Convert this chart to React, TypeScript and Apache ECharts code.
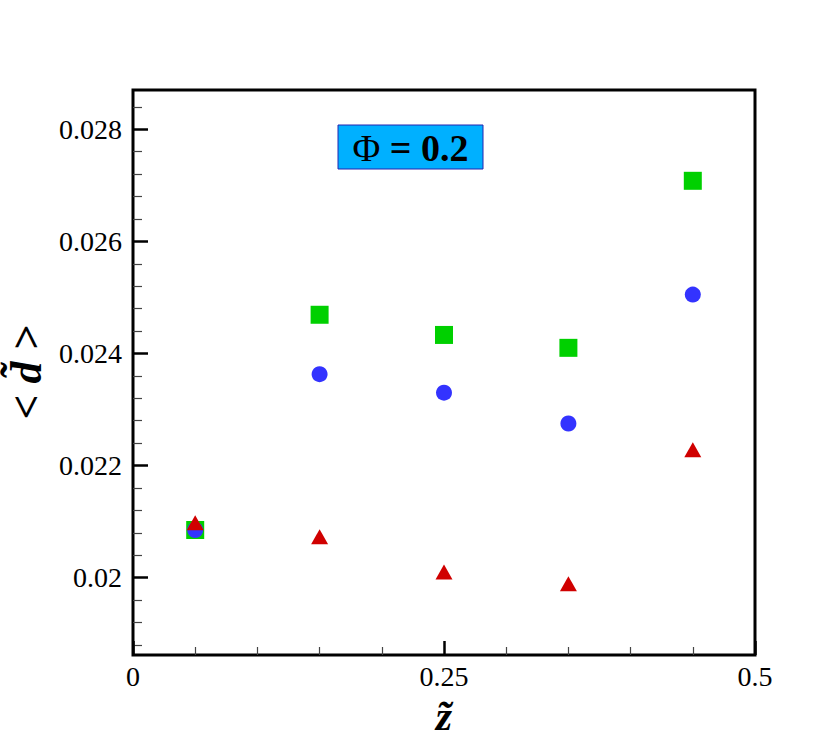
import React, { useEffect, useRef } from "react";
import * as echarts from "echarts";

const xValues = [0.05, 0.15, 0.25, 0.35, 0.45];
const greenSquares = [0.02085, 0.02469, 0.02433, 0.0241, 0.02708];
const blueCircles = [0.02085, 0.02363, 0.0233, 0.02275, 0.02505];
const redTriangles = [0.02098, 0.02073, 0.0201, 0.01989, 0.02228];

const xMajorTicks = [0, 0.25, 0.5];
const xMinorTicks = [0.05, 0.1, 0.15, 0.2, 0.3, 0.35, 0.4, 0.45];
const yMajorTicks = [0.02, 0.022, 0.024, 0.026, 0.028];
const yMinorTicks = [
  0.0188, 0.0192, 0.0196, 0.0204, 0.0208, 0.0212, 0.0216, 0.0224, 0.0228,
  0.0232, 0.0236, 0.0244, 0.0248, 0.0252, 0.0256, 0.0264, 0.0268, 0.0272,
  0.0276, 0.0284,
];
const xRange = [0, 0.5];
const yRange = [0.01862, 0.0287];

const serif = "'Liberation Serif', 'Times New Roman', serif";

export default function App() {
  const ref = useRef<HTMLDivElement>(null);
  useEffect(() => {
    if (!ref.current) return;
    const chart = echarts.init(ref.current, null, { renderer: "svg" });
    const pair = (ys: number[]) => xValues.map((x, i) => [x, ys[i]]);
    const labelStyle = { fontFamily: serif, fontSize: 28, color: "#000" };
    chart.setOption({
      animation: false,
      backgroundColor: "#fff",
      grid: {
        left: 133,
        right: 75,
        top: 90,
        bottom: 84,
        containLabel: false,
        outerBoundsMode: "none",
        show: true,
        borderColor: "#000",
        borderWidth: 3,
        backgroundColor: "transparent",
      },
      xAxis: [
        {
          type: "value",
          min: xRange[0],
          max: xRange[1],
          position: "bottom",
          axisLine: { show: false },
          splitLine: { show: false },
          axisTick: {
            show: true,
            inside: true,
            length: 14,
            lineStyle: { color: "#000", width: 2.5 },
            customValues: xMajorTicks,
          },
          axisLabel: {
            ...labelStyle,
            margin: 7,
            customValues: xMajorTicks,
            formatter: (v: number) => String(v),
          },
          name: "z\u0303",
          nameLocation: "middle",
          nameGap: 32,
          nameTextStyle: {
            fontFamily: serif,
            fontSize: 42,
            fontStyle: "italic",
            fontWeight: "bold",
            color: "#000",
          },
        },
        {
          type: "value",
          min: xRange[0],
          max: xRange[1],
          position: "bottom",
          axisLine: { show: false },
          splitLine: { show: false },
          axisTick: {
            show: true,
            inside: true,
            length: 8,
            lineStyle: { color: "#444", width: 1.2 },
            customValues: xMinorTicks,
          },
          axisLabel: { show: false },
        },
      ],
      yAxis: [
        {
          type: "value",
          min: yRange[0],
          max: yRange[1],
          position: "left",
          axisLine: { show: false },
          splitLine: { show: false },
          axisTick: {
            show: true,
            inside: true,
            length: 15,
            lineStyle: { color: "#000", width: 2.5 },
            customValues: yMajorTicks,
          },
          axisLabel: {
            ...labelStyle,
            margin: 11,
            customValues: yMajorTicks,
            formatter: (v: number) => String(+v.toFixed(4)),
          },
          name: "< d\u0303 >",
          nameLocation: "middle",
          nameGap: 70,
          nameTextStyle: {
            fontFamily: serif,
            fontSize: 44,
            lineHeight: 44,
            fontStyle: "italic",
            fontWeight: "bold",
            color: "#000",
          },
        },
        {
          type: "value",
          min: yRange[0],
          max: yRange[1],
          position: "left",
          axisLine: { show: false },
          splitLine: { show: false },
          axisTick: {
            show: true,
            inside: true,
            length: 9,
            lineStyle: { color: "#444", width: 1.2 },
            customValues: yMinorTicks,
          },
          axisLabel: { show: false },
        },
      ],
      graphic: [
        {
          type: "group",
          z: 100,
          children: [
            {
              type: "rect",
              shape: { x: 338, y: 125, width: 145, height: 44 },
              style: { fill: "#00B0FF", stroke: "#2424B0", lineWidth: 1 },
            },
            {
              type: "text",
              x: 410.5,
              y: 148,
              style: {
                text: "{a|\u03A6}{b| = 0.2}",
                align: "center",
                verticalAlign: "middle",
                textAlign: "center",
                textVerticalAlign: "middle",
                fill: "#000",
                rich: {
                  a: { fontFamily: serif, fontSize: 38, fontWeight: "normal", fill: "#000" },
                  b: { fontFamily: serif, fontSize: 38, fontWeight: "bold", fill: "#000" },
                },
              },
            },
          ],
        },
      ],
      series: [
        {
          type: "scatter",
          xAxisIndex: 0,
          yAxisIndex: 0,
          symbol: "rect",
          symbolSize: 18,
          itemStyle: { color: "#00D000", opacity: 1 },
          data: pair(greenSquares),
          z: 2,
        },
        {
          type: "scatter",
          xAxisIndex: 0,
          yAxisIndex: 0,
          symbol: "circle",
          symbolSize: 16,
          itemStyle: { color: "#3333FF", opacity: 1 },
          data: pair(blueCircles),
          z: 3,
        },
        {
          type: "scatter",
          xAxisIndex: 0,
          yAxisIndex: 0,
          symbol: "triangle",
          symbolSize: [17, 15],
          itemStyle: { color: "#D00000", opacity: 1 },
          data: pair(redTriangles),
          z: 4,
        },
      ],
    });
    return () => chart.dispose();
  }, []);
  return (
    <div
      ref={ref}
      style={{ position: "fixed", left: 0, top: 0, width: 830, height: 739 }}
    />
  );
}
